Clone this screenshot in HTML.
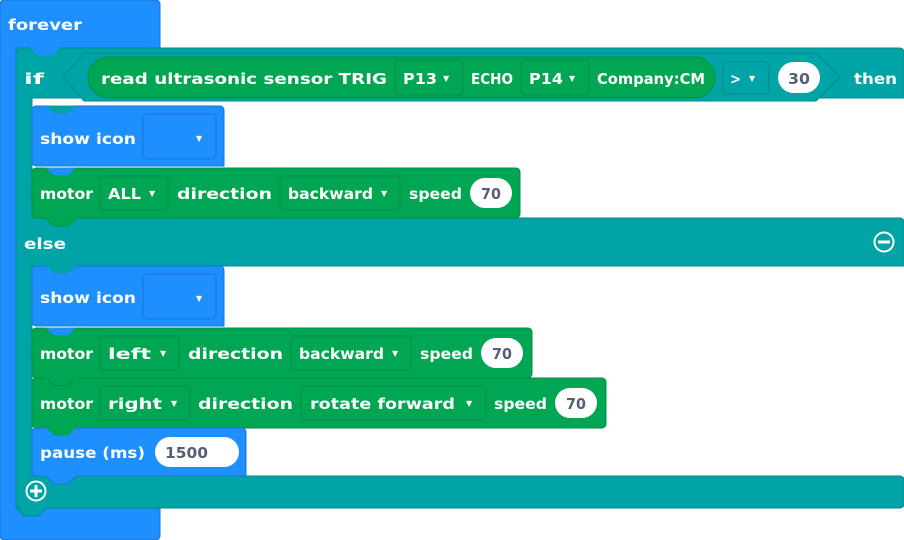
<!DOCTYPE html>
<html><head><meta charset="utf-8"><style>
html,body{margin:0;padding:0;background:#fff;width:904px;height:540px;overflow:hidden}
text{font-family:"DejaVu Sans","Liberation Sans",sans-serif;font-weight:bold;font-size:15px;fill:#fff}
.d{fill:#575e75}
.t{font-size:8px}
</style></head><body>
<svg width="904" height="540" viewBox="0 0 904 540" xmlns="http://www.w3.org/2000/svg">
<!-- forever -->
<path d="M4,0 H156 a4,4 0 0 1 4,4 V48 H16 V508 H160 V536 a4,4 0 0 1 -4,4 H4 a4,4 0 0 1 -4,-4 V4 a4,4 0 0 1 4,-4Z" fill="#1e8fff" stroke="#1a74d6" stroke-width="1"/>
<text x="8" y="30" textLength="74" lengthAdjust="spacingAndGlyphs">forever</text>
<!-- if/else block -->
<path d="M20,48 H900 a4,4 0 0 1 4,4 V98 H32 V218 H900 a4,4 0 0 1 4,4 V266 H32 V476 H900 a4,4 0 0 1 4,4 V504 a4,4 0 0 1 -4,4 H46 l-8,8 h-14 l-8,-8 H20 a4,4 0 0 1 -4,-4 V52 a4,4 0 0 1 4,-4Z" fill="#00a4a6" stroke="#008a8c" stroke-width="1"/>
<path d="M30,47.5 l8,8 h14 l8,-8Z" fill="#1e8fff"/>
<text x="24" y="84" textLength="20" lengthAdjust="spacingAndGlyphs">if</text>
<!-- hexagon condition -->
<path d="M84,53 H816 L840,77 L816,101 H84 L63,77Z" fill="#00a4a6" stroke="#008a8c" stroke-width="1"/>
<rect x="88" y="57" width="627" height="41" rx="20.5" fill="#00a651" stroke="#008d45"/>
<text x="101" y="84" textLength="286" lengthAdjust="spacingAndGlyphs">read ultrasonic sensor TRIG</text>
<rect x="395" y="60" width="68" height="35" rx="4" fill="#00a651" stroke="#008d45"/>
<text x="403" y="84" textLength="34" lengthAdjust="spacingAndGlyphs">P13</text><text class="t" x="443" y="81">▼</text>
<text x="471" y="84" textLength="42" lengthAdjust="spacingAndGlyphs">ECHO</text>
<rect x="521" y="60" width="68" height="35" rx="4" fill="#00a651" stroke="#008d45"/>
<text x="529" y="84" textLength="34" lengthAdjust="spacingAndGlyphs">P14</text><text class="t" x="569" y="81">▼</text>
<text x="597" y="84" textLength="108" lengthAdjust="spacingAndGlyphs">Company:CM</text>
<rect x="723" y="62" width="46" height="32" rx="4" fill="#00a4a6" stroke="#008a8c"/>
<text x="730" y="84" textLength="11" lengthAdjust="spacingAndGlyphs">&gt;</text><text class="t" x="749" y="81">▼</text>
<rect x="778" y="62" width="42" height="31" rx="15.5" fill="#fff"/>
<text class="d" x="788" y="84" textLength="22" lengthAdjust="spacingAndGlyphs">30</text>
<text x="854" y="84" textLength="43" lengthAdjust="spacingAndGlyphs">then</text>
<!-- show icon 1 -->
<path d="M36,106 H220 a4,4 0 0 1 4,4 V166 H36 a4,4 0 0 1 -4,-4 V110 a4,4 0 0 1 4,-4Z" fill="#1e8fff" stroke="#1a74d6"/>
<path d="M46,105.5 l8,8 h14 l8,-8Z" fill="#00a4a6"/>
<text x="40" y="144" textLength="96" lengthAdjust="spacingAndGlyphs">show icon</text>
<rect x="143" y="114" width="73" height="45" rx="4" fill="#1e8fff" stroke="#1a74d6"/>
<text class="t" x="196" y="141">▼</text>
<!-- motor ALL -->
<path d="M36,168 H516 a4,4 0 0 1 4,4 V214 a4,4 0 0 1 -4,4 H76 l-8,8 h-14 l-8,-8 H36 a4,4 0 0 1 -4,-4 V172 a4,4 0 0 1 4,-4Z" fill="#00a651" stroke="#008d45"/>
<path d="M46,167.5 l8,8 h14 l8,-8Z" fill="#1e8fff"/>
<text x="40" y="199" textLength="53" lengthAdjust="spacingAndGlyphs">motor</text>
<rect x="100" y="176" width="68" height="34" rx="4" fill="#00a651" stroke="#008d45"/>
<text x="108" y="199" textLength="33" lengthAdjust="spacingAndGlyphs">ALL</text><text class="t" x="149" y="196">▼</text>
<text x="177" y="199" textLength="95" lengthAdjust="spacingAndGlyphs">direction</text>
<rect x="280" y="176" width="120" height="34" rx="4" fill="#00a651" stroke="#008d45"/>
<text x="288" y="199" textLength="85" lengthAdjust="spacingAndGlyphs">backward</text><text class="t" x="381" y="196">▼</text>
<text x="409" y="199" textLength="53" lengthAdjust="spacingAndGlyphs">speed</text>
<rect x="470" y="178" width="42" height="30" rx="15" fill="#fff"/>
<text class="d" x="481" y="199" textLength="20" lengthAdjust="spacingAndGlyphs">70</text>
<!-- else -->
<text x="24" y="249" textLength="42" lengthAdjust="spacingAndGlyphs">else</text>
<circle cx="884" cy="242" r="9.5" fill="none" stroke="#fff" stroke-width="2"/>
<rect x="878" y="240.5" width="12" height="3" fill="#fff"/>
<!-- show icon 2 -->
<path d="M36,266 H220 a4,4 0 0 1 4,4 V326 H36 a4,4 0 0 1 -4,-4 V270 a4,4 0 0 1 4,-4Z" fill="#1e8fff" stroke="#1a74d6"/>
<path d="M46,265.5 l8,8 h14 l8,-8Z" fill="#00a4a6"/>
<text x="40" y="303" textLength="96" lengthAdjust="spacingAndGlyphs">show icon</text>
<rect x="143" y="274" width="73" height="45" rx="4" fill="#1e8fff" stroke="#1a74d6"/>
<text class="t" x="196" y="301">▼</text>
<!-- motor left -->
<path d="M36,328 H528 a4,4 0 0 1 4,4 V374 a4,4 0 0 1 -4,4 H36 a4,4 0 0 1 -4,-4 V332 a4,4 0 0 1 4,-4Z" fill="#00a651" stroke="#008d45"/>
<path d="M46,327.5 l8,8 h14 l8,-8Z" fill="#1e8fff"/>
<text x="40" y="359" textLength="53" lengthAdjust="spacingAndGlyphs">motor</text>
<rect x="100" y="336" width="79" height="34" rx="4" fill="#00a651" stroke="#008d45"/>
<text x="108" y="359" textLength="43" lengthAdjust="spacingAndGlyphs">left</text><text class="t" x="160" y="356">▼</text>
<text x="188" y="359" textLength="95" lengthAdjust="spacingAndGlyphs">direction</text>
<rect x="291" y="336" width="120" height="34" rx="4" fill="#00a651" stroke="#008d45"/>
<text x="299" y="359" textLength="85" lengthAdjust="spacingAndGlyphs">backward</text><text class="t" x="392" y="356">▼</text>
<text x="420" y="359" textLength="53" lengthAdjust="spacingAndGlyphs">speed</text>
<rect x="481" y="338" width="42" height="30" rx="15" fill="#fff"/>
<text class="d" x="492" y="359" textLength="20" lengthAdjust="spacingAndGlyphs">70</text>
<!-- motor right -->
<path d="M36,378 H602 a4,4 0 0 1 4,4 V424 a4,4 0 0 1 -4,4 H36 a4,4 0 0 1 -4,-4 V382 a4,4 0 0 1 4,-4Z" fill="#00a651" stroke="#008d45"/>
<path d="M46,377.5 l8,8 h14 l8,-8Z" fill="#00a651" stroke="#008d45"/>
<rect x="45" y="376" width="32" height="3" fill="#00a651"/>
<text x="40" y="409" textLength="53" lengthAdjust="spacingAndGlyphs">motor</text>
<rect x="100" y="386" width="90" height="34" rx="4" fill="#00a651" stroke="#008d45"/>
<text x="108" y="409" textLength="54" lengthAdjust="spacingAndGlyphs">right</text><text class="t" x="171" y="406">▼</text>
<text x="198" y="409" textLength="95" lengthAdjust="spacingAndGlyphs">direction</text>
<rect x="301" y="386" width="185" height="34" rx="4" fill="#00a651" stroke="#008d45"/>
<text x="310" y="409" textLength="145" lengthAdjust="spacingAndGlyphs">rotate forward</text><text class="t" x="466" y="406">▼</text>
<text x="494" y="409" textLength="53" lengthAdjust="spacingAndGlyphs">speed</text>
<rect x="555" y="388" width="42" height="30" rx="15" fill="#fff"/>
<text class="d" x="566" y="409" textLength="20" lengthAdjust="spacingAndGlyphs">70</text>
<!-- pause -->
<path d="M36,428 H242 a4,4 0 0 1 4,4 V476 H76 l-8,8 h-14 l-8,-8 H36 a4,4 0 0 1 -4,-4 V432 a4,4 0 0 1 4,-4Z" fill="#1e8fff" stroke="#1a74d6"/>
<path d="M46,427.5 l8,8 h14 l8,-8Z" fill="#00a651"/>
<text x="40" y="458" textLength="105" lengthAdjust="spacingAndGlyphs">pause (ms)</text>
<rect x="155" y="437" width="84" height="30" rx="15" fill="#fff"/>
<text class="d" x="165" y="458" textLength="43" lengthAdjust="spacingAndGlyphs">1500</text>
<!-- plus -->
<circle cx="36" cy="491" r="9.5" fill="none" stroke="#fff" stroke-width="2"/>
<rect x="30" y="489.5" width="12" height="3" fill="#fff"/>
<rect x="34.5" y="485" width="3" height="12" fill="#fff"/>
</svg>
</body></html>
